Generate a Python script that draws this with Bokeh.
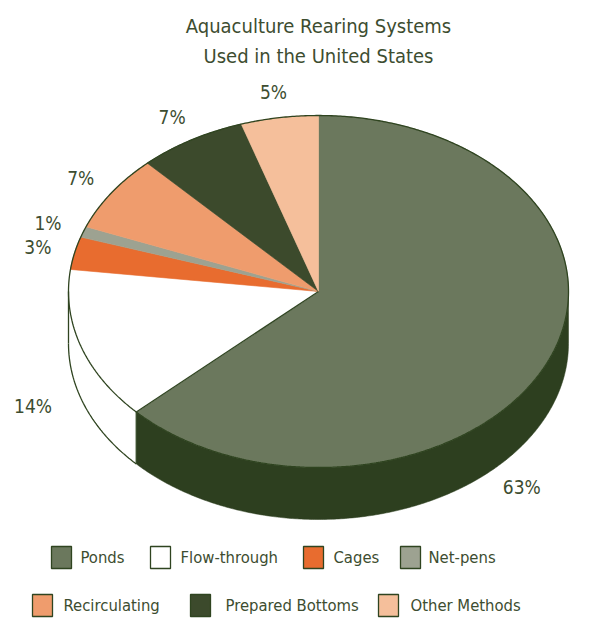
import numpy as np
from bokeh.plotting import figure
from bokeh.models import Range1d
from bokeh.core.properties import value
from bokeh.embed import file_html
from bokeh.resources import INLINE

# ---- data ----
title_lines = ["Aquaculture Rearing Systems", "Used in the United States"]
categories = ["Ponds", "Flow-through", "Cages", "Net-pens",
              "Recirculating", "Prepared Bottoms", "Other Methods"]
shares = [63, 14, 3, 1, 7, 7, 5]
top_colors = ["#6b785d", "#ffffff", "#e86c2f", "#9da291",
              "#ef9c6d", "#3c4a2c", "#f5bf9b"]
side_colors = ["#2d3f1f", "#ffffff", "#c85a25", "#80857a",
               "#d8845a", "#2a361e", "#e0a883"]

# ---- layout constants ----
FONT = value("'DejaVu Sans Condensed', 'Roboto Condensed', 'Liberation Sans Narrow', Roboto")
TXT = "#3d4d30"
EDGE = "#2f4420"
CX, CY, RX, RY, DEPTH = 318.0, 291.0, 250.0, 176.0, 52.0
W, H = 616, 621

p = figure(width=W, height=H, output_backend="svg", toolbar_location=None,
           x_range=Range1d(0, W), y_range=Range1d(H, 0),
           min_border=0, outline_line_color=None)
p.axis.visible = False
p.grid.visible = False
p.background_fill_color = "white"


def pt(theta_deg, dy=0.0):
    t = np.radians(theta_deg)
    return CX + RX * np.sin(t), CY - RY * np.cos(t) + dy


def arc(a, b, dy=0.0, n=None):
    if n is None:
        n = max(int(abs(b - a)) * 2, 4)
    th = np.linspace(a, b, n)
    x, y = pt(th, dy)
    return list(x), list(y)


total = float(sum(shares))
bounds = np.concatenate([[0.0], np.cumsum(shares) / total * 360.0])

# ---- sides (front half: 90..270 deg) ----
sx, sy, sc = [], [], []
for i in range(len(shares)):
    a, b = max(bounds[i], 90.0), min(bounds[i + 1], 270.0)
    if b > a:
        tx, ty = arc(a, b)
        bx, by = arc(b, a, DEPTH)
        sx.append(tx + bx)
        sy.append(ty + by)
        sc.append(side_colors[i])
p.patches(sx, sy, fill_color=sc, line_color=sc, line_width=0.5)

# ---- top slices ----
txs, tys = [], []
for i in range(len(shares)):
    ax, ay = arc(bounds[i], bounds[i + 1])
    txs.append([CX] + ax)
    tys.append([CY] + ay)
p.patches(txs, tys, fill_color=top_colors, line_color=top_colors, line_width=0.6)

# ---- outlines ----
ex, ey = arc(0, 360, n=720)
p.line(ex, ey, line_color=EDGE, line_width=1.3)
fb = bounds[1]
bx, by = arc(fb, 270.0, DEPTH)
p.line(bx, by, line_color=EDGE, line_width=1.3)
x1, y1 = pt(fb)
p.segment([CX], [CY], [x1], [y1], line_color=EDGE, line_width=1.3)
p.segment([x1], [y1], [x1], [y1 + DEPTH], line_color=EDGE, line_width=1.3)
x2, y2 = pt(270.0)
p.segment([x2], [y2], [x2], [y2 + DEPTH], line_color=EDGE, line_width=1.3)

# ---- percentage labels ----
lx, ly, lt = [], [], []
for i in range(len(shares)):
    mid = (bounds[i] + bounds[i + 1]) / 2.0
    r = 1.15
    dx = 0.0
    if i == 0:
        mid = 135.0
    if i == 1:
        dx = -12.0
    t = np.radians(mid)
    x = CX + r * RX * np.sin(t) + dx
    y = CY - r * RY * np.cos(t)
    if 90 < mid < 270:
        y += DEPTH
    lx.append(x)
    ly.append(y)
    lt.append(f"{shares[i]}%")
p.text(lx, ly, text=lt, text_font=FONT, text_font_size="19px", text_color=TXT,
       text_align="center", text_baseline="middle")

# ---- title ----
p.text([318, 318], [25, 55], text=title_lines, text_font=FONT,
       text_font_size="20px", text_color=TXT, text_align="center",
       text_baseline="middle")

# ---- legend ----
leg_sq_x = [61, 160, 313, 410, 42, 200, 388]
leg_tx_x = [80, 180, 333, 428, 63, 225, 410]
leg_y = [557, 557, 557, 557, 605, 605, 605]
p.rect(leg_sq_x, leg_y, width=20, height=22, fill_color=top_colors,
       line_color=EDGE, line_width=1.3)
p.text(leg_tx_x, leg_y, text=categories, text_font=FONT, text_font_size="16.5px",
       text_color=TXT, text_align="left", text_baseline="middle")

open("out.html", "w").write(file_html(p, INLINE))
